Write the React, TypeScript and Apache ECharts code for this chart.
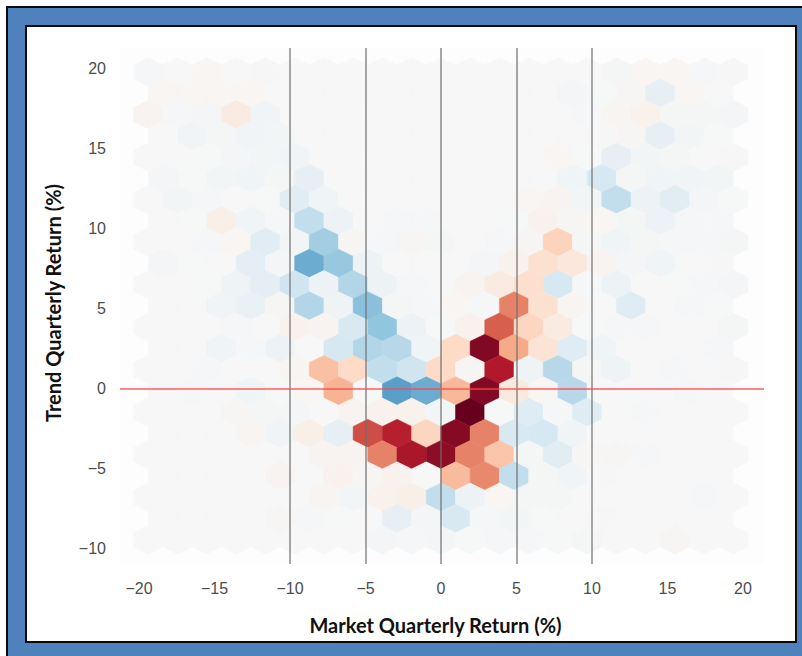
import React, { useEffect, useRef } from "react";
import * as echarts from "echarts";

const xTicks = [-20, -15, -10, -5, 0, 5, 10, 15, 20];
const yTicks = [-10, -5, 0, 5, 10, 15, 20];
const verticalMarks = [-10, -5, 0, 5, 10];
const xTitle = "Market Quarterly Return (%)";
const yTitle = "Trend Quarterly Return (%)";

// hexbin column / row centres, in axis units
const evenRowFirstX = -19.38;
const oddRowFirstX = -18.41;
const columnStep = 1.937;
const topRowY = 19.81;
const rowStep = 1.329;

// one list per hexbin row, top to bottom; signed shade of each cell
const r00 = [-.02,0,.03,0,.01,0,0,0,0,0,0,0,0,0,0,0,-.03,.03,.03,-.02,.01];
const r01 = [.03,.03,.03,.03,0,0,0,0,0,0,0,0,0,0,-.04,-.01,.02,-.12,.03,0];
const r02 = [.05,-.02,-.04,.12,-.06,0,0,0,0,0,0,0,0,0,0,-.02,.04,.08,-.03,-.03,-.04];
const r03 = [0,-.06,-.03,-.06,-.05,0,0,0,0,0,0,0,0,0,0,.01,.02,-.12,-.05,-.01];
const r04 = [0,0,-.01,-.04,-.05,-.06,0,0,0,0,0,0,0,0,.03,-.01,-.12,-.05,-.03,0,.01];
const r05 = [-.04,-.01,-.05,-.07,-.03,-.12,0,0,0,0,0,0,0,0,-.07,-.18,-.03,-.07,-.06,-.05];
const r06 = [0,-.05,-.02,0,-.01,-.14,-.07,0,0,0,0,0,0,.03,.05,-.05,-.25,-.1,-.14,-.04,-.01];
const r07 = [0,-.01,.1,-.07,-.02,-.25,-.1,0,-.02,-.02,0,0,-.01,.07,.02,.03,-.03,-.1,-.02,-.02];
const r08 = [0,0,-.02,.03,-.14,-.05,-.35,.02,-.02,.02,-.03,0,-.02,.02,.23,-.03,-.07,-.03,-.02,-.02,-.03];
const r09 = [-.04,-.01,0,-.13,-.04,-.5,-.38,-.1,0,0,0,-.04,.08,.17,.14,.05,-.04,-.07,0,.01];
const r10 = [0,0,-.01,-.08,-.13,-.2,-.1,-.3,-.09,-.02,0,.05,.12,.18,-.18,-.02,-.1,0,-.01,-.02,-.04];
const r11 = [0,0,-.07,-.11,.02,-.3,-.08,-.42,-.03,-.02,.03,-.02,.5,.17,.04,0,-.15,0,-.02,-.01];
const r12 = [0,0,0,-.02,0,.08,.05,-.17,-.4,-.1,-.01,.07,.6,.22,.12,-.01,-.02,-.02,0,0,-.03];
const r13 = [0,0,-.07,-.02,-.1,0,-.18,-.3,-.28,-.07,.2,.93,.38,.16,-.15,-.07,0,0,0,-.02];
const r14 = [0,0,-.02,0,0,.04,.3,.2,-.25,-.2,.2,.02,.8,-.08,-.28,-.03,-.08,0,-.02,0,.01];
const r15 = [0,-.02,0,-.07,-.01,.03,.35,0,-.55,-.5,.33,.93,.13,.03,-.28,0,0,0,-.02,0];
const r16 = [0,0,0,.02,-.03,-.04,0,.05,.07,.08,-.05,1,-.01,-.15,-.02,-.15,0,-.02,0,0,0];
const r17 = [0,0,0,.04,-.07,.1,-.12,.65,.78,.22,.92,.5,-.17,-.18,-.07,0,0,0,0,0];
const r18 = [0,0,0,0,0,0,.05,.05,.5,.82,.9,.5,.28,-.03,-.14,.02,.02,-.02,0,0,0];
const r19 = [0,0,0,0,.05,0,.07,.02,.07,0,.32,.48,-.25,-.03,-.06,.01,0,0,0,0];
const r20 = [0,0,0,0,0,0,.04,-.05,.08,.1,-.25,-.1,.03,-.03,-.03,0,0,0,0,-.02,0];
const r21 = [0,0,0,0,.02,-.02,-.01,0,-.12,-.04,-.17,-.02,-.05,-.01,0,.01,0,0,0,0];
const r22 = [0,0,0,0,0,0,0,0,-.04,-.02,-.04,-.01,-.02,-.02,-.01,-.03,0,0,.02,0,0];
const rows = [r00,r01,r02,r03,r04,r05,r06,r07,r08,r09,r10,r11,r12,r13,r14,r15,r16,r17,r18,r19,r20,r21,r22];

// RdBu_r stops, one every 0.1 on the -1..1 scale, with a gentle start around the neutral centre
const shades = [
  "#053061","#0f437b","#2166ac","#3079b7","#4393c3","#6cacd1","#92c5de","#b2d5e7","#d1e5f0","#ecf2f5",
  "#f7f7f7",
  "#f9efe9","#fddbc7","#f9c0a4","#f4a582","#e58268","#d6604d","#c43c3c","#b2182b","#8c0d25","#67001f",
];

const cells: number[][] = [];
rows.forEach((row, i) => {
  row.forEach((v, k) => {
    const first = i % 2 === 0 ? evenRowFirstX : oddRowFirstX;
    cells.push([first + k * columnStep, topRowY - i * rowStep, v]);
  });
});

const minus = (v: number) => String(v).replace("-", "\u2212");

export default function App() {
  const ref = useRef<HTMLDivElement>(null);
  useEffect(() => {
    document.body.style.margin = "0";
    const chart = echarts.init(ref.current!, undefined, { renderer: "svg" });
    chart.setOption({
      animation: false,
      backgroundColor: "#ffffff",
      grid: { left: 120, top: 48, width: 644, height: 516, show: true, backgroundColor: "#fdfdfd", borderWidth: 0 },
      xAxis: {
        type: "value",
        min: -21.26,
        max: 21.39,
        name: xTitle,
        nameLocation: "middle",
        nameGap: 51,
        nameTextStyle: { fontFamily: "Lato", fontWeight: "bold", fontSize: 20, color: "#111", padding: [0, 13, 0, 0] },
        axisLine: { show: false },
        axisTick: { show: false },
        splitLine: { show: false },
        axisLabel: { customValues: xTicks, formatter: minus, color: "#4d4d4d", fontSize: 16, fontFamily: "Liberation Sans", margin: 16 },
      },
      yAxis: {
        type: "value",
        min: -10.94,
        max: 21.31,
        name: yTitle,
        nameLocation: "middle",
        nameGap: 57,
        nameTextStyle: { fontFamily: "Lato", fontWeight: "bold", fontSize: 20, color: "#111", padding: [0, 0, 0, 6] },
        axisLine: { show: false },
        axisTick: { show: false },
        splitLine: { show: false },
        axisLabel: { customValues: yTicks, formatter: minus, color: "#4d4d4d", fontSize: 16, fontFamily: "Liberation Sans", margin: 14, padding: [2, 0, 0, 0] },
      },
      visualMap: {
        show: false,
        type: "continuous",
        min: -1,
        max: 1,
        dimension: 2,
        seriesIndex: 0,
        inRange: { color: shades },
      },
      series: [
        {
          type: "custom",
          coordinateSystem: "cartesian2d",
          encode: { x: 0, y: 1 },
          data: cells,
          silent: true,
          renderItem: (_: any, api: any) => {
            const [cx, cy] = api.coord([api.value(0), api.value(1)]);
            const [w, h] = api.size([columnStep, rowStep]);
            const color = api.visual("color");
            return {
              type: "polygon",
              shape: {
                points: [
                  [cx, cy - (h * 2) / 3],
                  [cx + w / 2, cy - h / 3],
                  [cx + w / 2, cy + h / 3],
                  [cx, cy + (h * 2) / 3],
                  [cx - w / 2, cy + h / 3],
                  [cx - w / 2, cy - h / 3],
                ],
              },
              style: { fill: color, stroke: color, lineWidth: 0.5 },
            };
          },
        },
        {
          type: "line",
          data: [],
          silent: true,
          markLine: {
            silent: true,
            symbol: "none",
            label: { show: false },
            lineStyle: { type: "solid", color: "rgba(110,110,110,0.6)", width: 2 },
            data: verticalMarks.map((x) => ({ xAxis: x })),
          },
        },
        {
          type: "line",
          data: [],
          silent: true,
          markLine: {
            silent: true,
            symbol: "none",
            label: { show: false },
            lineStyle: { type: "solid", color: "rgba(255,70,70,0.65)", width: 2 },
            data: [{ yAxis: 0 }],
          },
        },
      ],
      graphic: [
        { type: "rect", silent: true, shape: { x: 17, y: 17, width: 788, height: 634 }, style: { fill: "none", stroke: "#4f81bd", lineWidth: 18 } },
        { type: "rect", silent: true, shape: { x: 26, y: 26, width: 770, height: 616 }, style: { fill: "none", stroke: "#0a0a0a", lineWidth: 2 } },
        { type: "polyline", silent: true, shape: { points: [[7, 660], [7, 7], [805, 7]] }, style: { fill: "none", stroke: "#0a0a0a", lineWidth: 2 } },
      ],
    });
    return () => chart.dispose();
  }, []);
  return <div ref={ref} style={{ position: "absolute", left: 0, top: 0, width: 802, height: 656 }} />;
}
